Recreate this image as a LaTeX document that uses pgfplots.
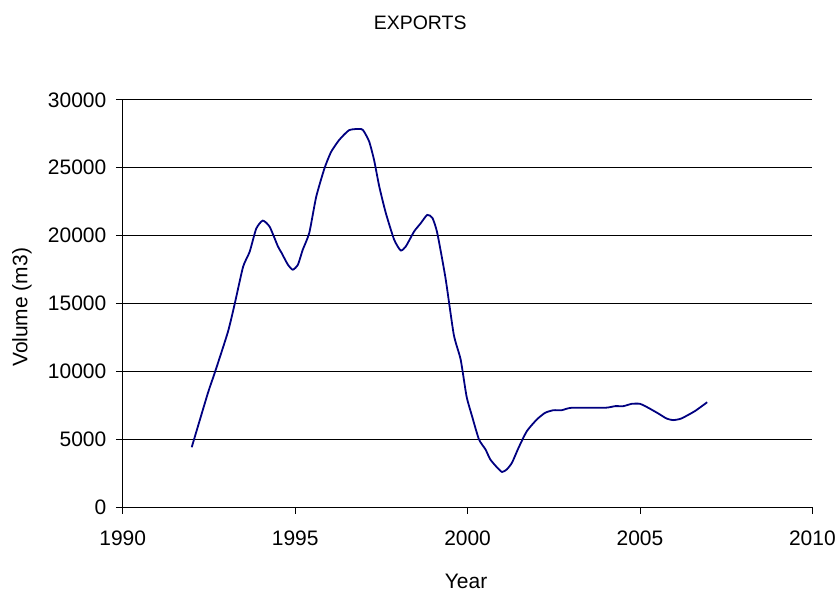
\documentclass[border=0pt]{standalone}
\usepackage{fontspec}
\setmainfont{Liberation Sans}
\usepackage{pgfplots}
\pgfplotsset{compat=1.18}
\definecolor{navyline}{RGB}{0,0,128}
\begin{document}
\begin{tikzpicture}[font=\fontsize{21bp}{25bp}\selectfont]
\begin{axis}[
  scale only axis, width=691bp, height=408bp,
  xmin=1990, xmax=2010, ymin=0, ymax=30000,
  xtick={1990,1995,2000,2005,2010},
  ytick={0,5000,10000,15000,20000,25000,30000},
  axis lines*=left,
  ymajorgrids,
  grid style={black, line width=0.8bp},
  axis line style={black, line width=0.8bp},
  tick style={black, line width=0.8bp},
  tick align=outside, major tick length=7bp,
  /pgf/number format/assume math mode=true,
  scaled y ticks=false, scaled x ticks=false,
  xticklabel style={/pgf/number format/1000 sep={}, yshift=-13bp},
  yticklabel style={/pgf/number format/1000 sep={}, xshift=-6bp},
  clip=false,
]
\addplot[navyline, line width=1.8bp, smooth, tension=0.35] coordinates {
(1992.0,4400) (1992.47,8400) (1992.67,9900) (1993.05,12900) (1993.25,15000)
(1993.49,17700) (1993.68,18800) (1993.87,20500) (1994.06,21100) (1994.26,20650)
(1994.5,19200) (1994.6,18750) (1994.79,17850) (1994.93,17480) (1995.08,17850)
(1995.22,18950) (1995.41,20200) (1995.61,22850) (1995.85,24950) (1996.04,26150)
(1996.28,27050) (1996.57,27770) (1996.91,27850) (1997.0,27650) (1997.15,26900)
(1997.29,25550) (1997.44,23600) (1997.63,21650) (1997.87,19700) (1998.06,18900)
(1998.21,19200) (1998.45,20300) (1998.64,20900) (1998.83,21520) (1998.98,21300)
(1999.12,20200) (1999.36,16870) (1999.6,12700) (1999.8,10860) (1999.97,8160)
(2000.13,6690) (2000.33,4980) (2000.52,4240) (2000.66,3500) (2000.86,2900)
(2001.0,2580) (2001.14,2770) (2001.29,3270) (2001.48,4370) (2001.72,5590)
(2002.01,6450) (2002.25,6940) (2002.49,7130) (2002.73,7130) (2003.02,7310)
(2003.99,7310) (2004.28,7430) (2004.52,7430) (2004.76,7600) (2005.0,7600)
(2005.24,7310) (2005.53,6890) (2005.77,6520) (2005.96,6400) (2006.2,6520)
(2006.59,7060) (2006.95,7720)
};
\end{axis}
\coordinate (O) at (current axis.south west);
\node[rotate=90] at ([shift={(-101bp,200bp)}]O) {Volume (m3)};
\node at ([shift={(344bp,-75bp)}]O) {Year};
\node[font=\fontsize{19.5bp}{23bp}\selectfont] at ([shift={(298bp,485bp)}]O) {EXPORTS};
\path ([shift={(-123bp,-81bp)}]O) rectangle ++(839bp,589bp);
\end{tikzpicture}
\end{document}
